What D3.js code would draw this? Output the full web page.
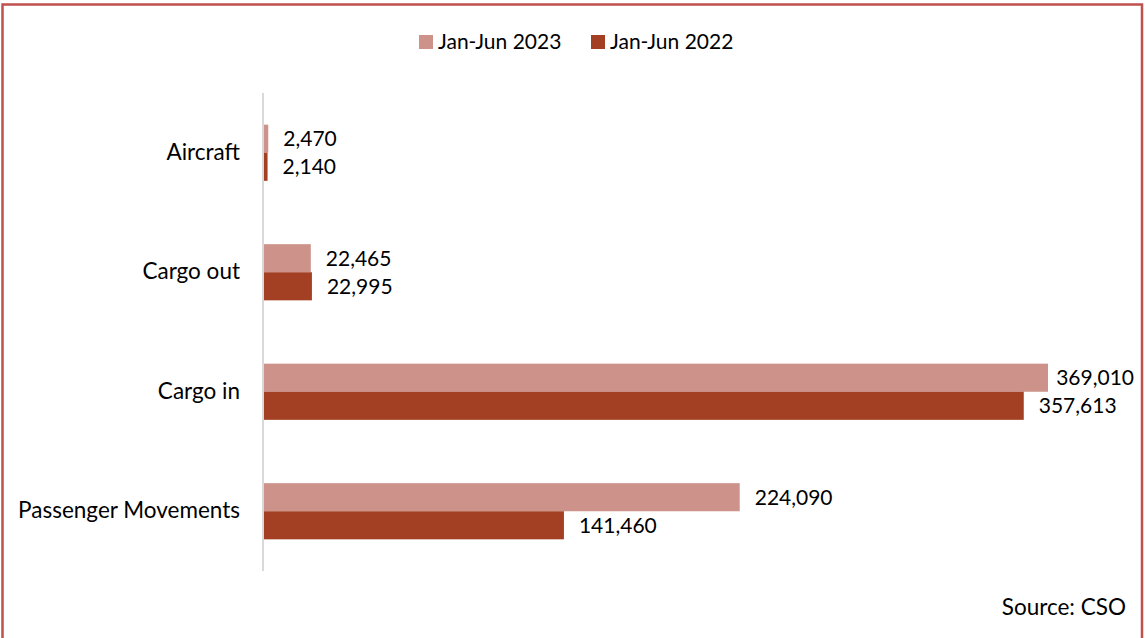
<!DOCTYPE html>
<html>
<head>
<meta charset="utf-8">
<script src="https://cdn.jsdelivr.net/npm/d3@7"></script>
<style>
  html, body { margin: 0; padding: 0; background: #fff; }
  svg { display: block; font-family: Lato, "Open Sans", sans-serif; }
</style>
</head>
<body>
<svg id="chart" width="1145" height="638"></svg>
<script>
// Categories (top to bottom) and the two half-year series
const categories = ["Aircraft", "Cargo out", "Cargo in", "Passenger Movements"];
const seriesNames = ["Jan-Jun 2023", "Jan-Jun 2022"];
const values2023 = [2470, 22465, 369010, 224090];
const values2022 = [2140, 22995, 357613, 141460];
const sourceNote = "Source: CSO";

const colors = { "Jan-Jun 2023": "#cd928a", "Jan-Jun 2022": "#a33f22" };
const seriesValues = { "Jan-Jun 2023": values2023, "Jan-Jun 2022": values2022 };

const svg = d3.select("#chart");
const W = 1145, H = 638;
const margin = { top: 93, right: 98, bottom: 67, left: 263 };
const innerW = W - margin.left - margin.right;
const innerH = H - margin.top - margin.bottom;
const labelRightLimit = 1134 - margin.left;

// Outer frame (bottom edge runs off the canvas)
svg.append("rect")
  .attr("x", 2.5).attr("y", 4.5)
  .attr("width", 1139.5).attr("height", H + 10)
  .attr("fill", "none")
  .attr("stroke", "#c0504d")
  .attr("stroke-width", 2.5);

const g = svg.append("g").attr("transform", `translate(${margin.left},${margin.top})`);

const x = d3.scaleLinear().domain([0, 369010]).range([0, 785]);
const y0 = d3.scaleBand().domain(categories).range([0, innerH]).paddingInner(0.53).paddingOuter(0.265);
const y1 = d3.scaleBand().domain(seriesNames).range([0, y0.bandwidth()]);

const groups = g.selectAll("g.cat")
  .data(categories)
  .join("g")
  .attr("class", "cat")
  .attr("transform", d => `translate(0,${y0(d)})`);

groups.selectAll("rect")
  .data((c, i) => seriesNames.map(s => ({ s, v: seriesValues[s][i] })))
  .join("rect")
  .attr("x", 0)
  .attr("y", d => y1(d.s))
  .attr("width", d => x(d.v))
  .attr("height", y1.bandwidth())
  .attr("fill", d => colors[d.s]);

// Value labels outside the bar end, kept inside the plot frame
const fmt = d3.format(",");
groups.selectAll("text.val")
  .data((c, i) => seriesNames.map(s => ({ s, v: seriesValues[s][i] })))
  .join("text")
  .attr("class", "val")
  .attr("y", d => y1(d.s) + y1.bandwidth() / 2)
  .attr("dy", "0.35em")
  .attr("font-size", 21)
  .attr("fill", "#000")
  .text(d => fmt(d.v))
  .attr("x", function (d) {
    const w = this.getComputedTextLength();
    return Math.min(x(d.v) + 15, labelRightLimit - w);
  });

// Category axis: vertical line with labels, no ticks
const yAxis = d3.axisLeft(y0).tickSize(0).tickPadding(23);
const ax = g.append("g").call(yAxis);
ax.select(".domain").attr("stroke", "#d9d9d9").attr("stroke-width", 2).attr("d", `M0,0V${innerH}`);
ax.selectAll("text").attr("font-size", 22.5).attr("fill", "#000").attr("font-family", "Lato, 'Open Sans', sans-serif");

// Legend
const legend = svg.append("g").attr("transform", "translate(419,35)");
const legendX = [0, 172];
seriesNames.forEach((s, i) => {
  const lg = legend.append("g").attr("transform", `translate(${legendX[i]},0)`);
  lg.append("rect").attr("width", 14).attr("height", 14).attr("fill", colors[s]);
  lg.append("text").attr("x", 19).attr("y", 7).attr("dy", "0.35em")
    .attr("font-size", 21).attr("fill", "#000").text(s);
});

// Source note
svg.append("text")
  .attr("x", 1126).attr("y", 607).attr("dy", "0.35em")
  .attr("text-anchor", "end")
  .attr("font-size", 22.5).attr("fill", "#000")
  .text(sourceNote);
</script>
</body>
</html>
